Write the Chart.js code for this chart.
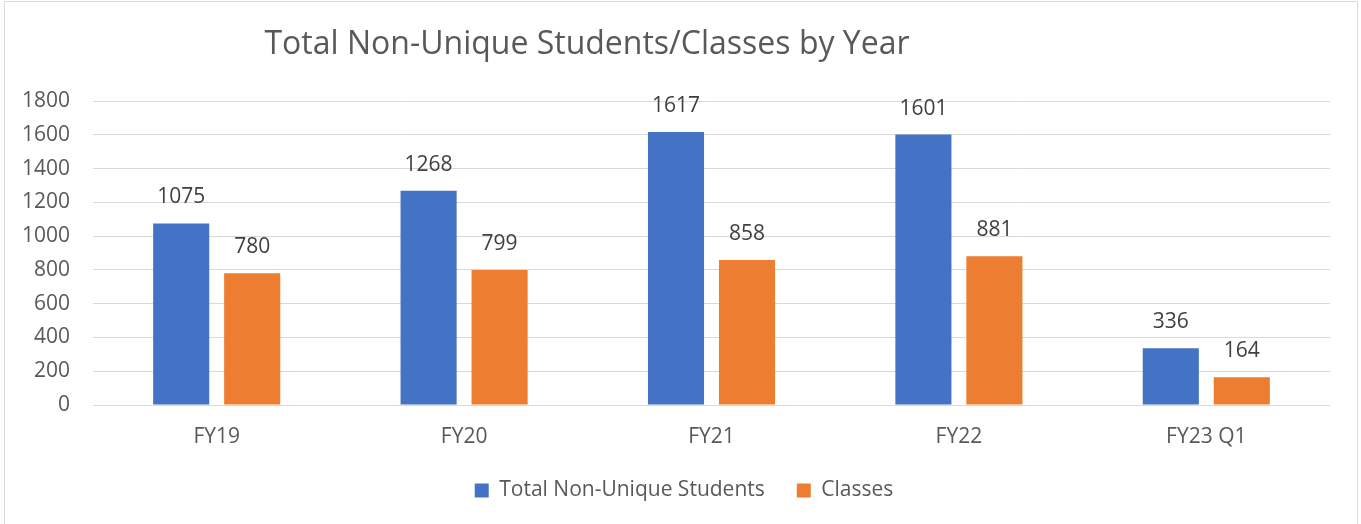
<!DOCTYPE html>
<html>
<head>
<meta charset="utf-8">
<script src="https://cdn.jsdelivr.net/npm/chart.js@4/dist/chart.umd.min.js"></script>
<style>
  html, body { margin: 0; padding: 0; background: #fff; }
  #wrap { position: relative; width: 1361px; height: 524px; }
</style>
</head>
<body>
<div id="wrap"><canvas id="chart" width="1361" height="524"></canvas></div>
<script>
const categories = ['FY19', 'FY20', 'FY21', 'FY22', 'FY23 Q1'];
const students = [1075, 1268, 1617, 1601, 336];
const classes = [780, 799, 858, 881, 164];
const yTicks = [0, 200, 400, 600, 800, 1000, 1200, 1400, 1600, 1800];

const chartTitle = 'Total Non-Unique Students/Classes by Year';
const FONT = '"Open Sans", "Noto Sans", sans-serif';

// frame + title drawn like the office chart
const framePlugin = {
  id: 'frame',
  beforeDraw(chart) {
    const { ctx } = chart;
    ctx.save();
    ctx.strokeStyle = '#d9d9d9';
    ctx.lineWidth = 1;
    ctx.strokeRect(4.5, 1.5, 1353, 530);
    ctx.fillStyle = '#595959';
    ctx.font = `32px ${FONT}`;
    ctx.textAlign = 'center';
    ctx.textBaseline = 'middle';
    ctx.fillText(chartTitle, 587, 45);
    ctx.restore();
  },
};

// keep legend compact vertically and nudge it right like the original
const legendFix = {
  id: 'legendFix',
  beforeLayout(chart) {
    const lg = chart.legend;
    if (lg && !lg._patched) {
      const fit = lg.fit.bind(lg);
      lg.fit = function () { fit(); this.height = 60; };
      lg._patched = true;
    }
  },
  afterLayout(chart) {
    if (chart.legend) chart.legend.left += 38;
  },
};

// value labels above each bar
const valueLabels = {
  id: 'valueLabels',
  afterDatasetsDraw(chart) {
    const { ctx } = chart;
    ctx.save();
    ctx.fillStyle = '#404040';
    ctx.font = `21px ${FONT}`;
    ctx.textAlign = 'center';
    ctx.textBaseline = 'middle';
    chart.data.datasets.forEach((ds, i) => {
      chart.getDatasetMeta(i).data.forEach((bar, j) => {
        ctx.fillText(String(ds.data[j]), bar.x, bar.y - 26);
      });
    });
    ctx.restore();
  },
};

new Chart(document.getElementById('chart'), {
  type: 'bar',
  data: {
    labels: categories,
    datasets: [
      { label: 'Total Non-Unique Students', data: students, backgroundColor: '#4472C4' },
      { label: 'Classes', data: classes, backgroundColor: '#ED7D31' },
    ],
  },
  options: {
    responsive: false,
    animation: false,
    categoryPercentage: 0.574,
    barPercentage: 0.79,
    layout: { padding: { left: 0, right: 31, top: 101, bottom: 16 } },
    plugins: {
      title: { display: false },
      tooltip: { enabled: false },
      legend: {
        position: 'bottom',
        labels: {
          boxWidth: 14,
          boxHeight: 14,
          padding: 32,
          color: '#595959',
          font: { family: FONT, size: 21 },
        },
      },
    },
    scales: {
      x: {
        grid: { display: false },
        border: { display: false },
        ticks: { color: '#595959', font: { family: FONT, size: 21 }, padding: 11 },
        afterFit(scale) { scale.height = 43; },
      },
      y: {
        min: 0,
        max: 1800,
        afterBuildTicks(scale) {
          scale.ticks = yTicks.map((v) => ({ value: v }));
        },
        afterFit(scale) { scale.width = 93; },
        grid: { color: '#d9d9d9', lineWidth: 1, drawTicks: false },
        border: { display: false },
        ticks: {
          color: '#595959',
          font: { family: FONT, size: 21 },
          padding: 23,
          callback: (v) => String(v),
        },
      },
    },
  },
  plugins: [framePlugin, legendFix, valueLabels],
});
</script>
</body>
</html>
